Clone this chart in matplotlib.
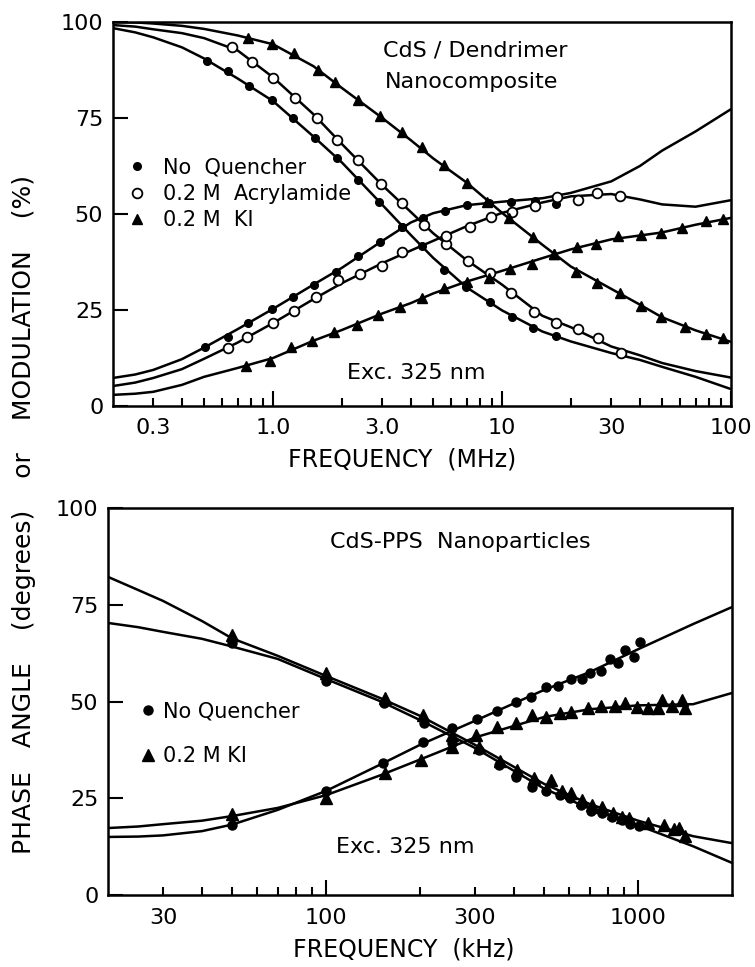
import matplotlib
matplotlib.use("Agg")
import matplotlib.pyplot as plt

plt.rcParams['font.family'] = ['DejaVu Sans']

# ---------------- TOP PANEL (MHz) ----------------
nq_mod_f = [0.516, 0.637, 0.787, 0.99, 1.22, 1.52, 1.90, 2.34, 2.89, 3.64, 4.49, 5.59, 6.97, 8.87, 11.0, 13.6, 17.2]
nq_mod_v = [89.8, 87.2, 83.3, 79.7, 75.0, 69.8, 64.6, 58.9, 53.1, 46.6, 41.7, 35.4, 31.0, 27.1, 23.2, 20.3, 18.2]
nq_ph_f = [0.506, 0.637, 0.779, 0.99, 1.22, 1.51, 1.88, 2.36, 2.92, 3.64, 4.53, 5.65, 7.04, 8.77, 10.9, 13.9, 17.2]
nq_ph_v = [15.4, 18.0, 21.6, 25.3, 28.4, 31.5, 34.9, 39.1, 42.7, 46.6, 49.0, 50.8, 52.3, 52.9, 53.1, 53.4, 52.6]

ac_mod_f = [0.664, 0.81, 1.0, 1.25, 1.56, 1.91, 2.36, 2.95, 3.67, 4.57, 5.70, 7.10, 8.84, 10.9, 13.8, 17.2, 21.4, 26.3, 33.2]
ac_mod_v = [93.5, 89.6, 85.4, 80.2, 75.0, 69.3, 64.1, 57.8, 52.9, 47.1, 42.2, 37.8, 34.6, 29.4, 24.5, 21.6, 20.1, 17.7, 13.8]
ac_ph_f = [0.637, 0.771, 1.0, 1.23, 1.54, 1.92, 2.39, 2.99, 3.67, 5.70, 7.25, 8.96, 11.0, 13.9, 17.3, 21.4, 26.1, 32.9]
ac_ph_v = [15.1, 18.0, 21.6, 24.7, 28.4, 32.8, 34.4, 36.5, 40.1, 44.3, 46.6, 49.2, 50.5, 52.1, 54.4, 53.6, 55.5, 54.7]

ki_mod_f = [0.778, 0.99, 1.23, 1.57, 1.86, 2.36, 2.92, 3.64, 4.45, 5.59, 7.04, 8.6, 10.7, 13.6, 16.8, 21.0, 25.9, 32.6, 40.3, 49.4, 63.0, 77.6, 92.0]
ki_mod_v = [95.8, 94.3, 91.9, 87.5, 84.4, 79.7, 75.5, 71.4, 67.4, 62.8, 58.1, 53.1, 49.0, 44.0, 39.6, 34.9, 32.0, 29.4, 26.0, 23.2, 20.6, 18.8, 17.7]
ki_ph_f = [0.763, 0.97, 1.20, 1.48, 1.84, 2.32, 2.87, 3.57, 4.49, 5.59, 7.04, 8.77, 10.8, 13.5, 16.8, 21.2, 25.6, 32.2, 40.6, 49.4, 61.3, 77.6, 92.0]
ki_ph_v = [10.4, 11.7, 15.4, 16.9, 19.3, 21.1, 23.7, 25.8, 28.1, 30.7, 32.3, 33.3, 35.7, 37.0, 39.6, 41.4, 42.2, 44.3, 44.5, 45.1, 46.4, 48.2, 48.7]

# fitted curves
top_fit_f = [0.2, 0.25, 0.3, 0.4, 0.5, 0.7, 1, 1.5, 2, 3, 4, 5, 7, 10, 15, 20, 30, 40, 50, 70, 100]
nq_mod_fit = [98.4, 97.3, 96.0, 93.4, 90.5, 85.3, 79.4, 70.2, 63.4, 52.4, 44.5, 38.6, 30.9, 24.9, 19.4, 16.8, 13.8, 12.0, 10.2, 7.6, 4.4]
ac_mod_fit = [99.2, 98.8, 98.1, 97.1, 95.8, 92.6, 85.6, 76.0, 68.2, 57.5, 50.5, 45.0, 38.0, 31.6, 23.5, 20.5, 15.5, 13.2, 11.2, 9.1, 7.4]
ki_mod_fit = [100, 99.9, 99.6, 99.0, 98.2, 96.5, 94.2, 88.5, 82.8, 75.0, 69.2, 64.5, 58.2, 50.3, 42.0, 36.3, 30.5, 26.4, 23.1, 19.7, 16.7]
nq_ph_fit = [7.3, 8.2, 9.4, 12.2, 15.2, 20.0, 25.3, 31.6, 36.0, 43.0, 47.8, 50.2, 52.3, 53.2, 54.1, 55.5, 58.5, 62.5, 66.5, 71.5, 77.3]
ac_ph_fit = [5.2, 6.1, 7.3, 9.6, 12.3, 16.5, 21.6, 27.8, 32.0, 37.2, 40.5, 43.0, 46.8, 50.3, 53.0, 54.6, 55.2, 53.8, 52.5, 51.9, 53.6]
ki_ph_fit = [2.9, 3.2, 3.7, 5.5, 7.6, 9.9, 12.5, 17.0, 19.8, 24.1, 26.8, 29.3, 32.4, 35.2, 38.5, 40.8, 43.4, 44.4, 45.2, 47.2, 49.0]

top_major_ticks = [1, 10, 100]
top_major_labels = ['1.0', '10', '100']
top_minor_ticks = [0.3, 0.4, 0.5, 0.6, 0.7, 0.8, 0.9, 2, 3, 4, 5, 6, 7, 8, 9, 20, 30, 40, 50, 60, 70, 80, 90]
top_minor_labels = ['0.3', '', '', '', '', '', '', '', '3.0', '', '', '', '', '', '', '', '30', '', '', '', '', '', '']

# ---------------- BOTTOM PANEL (kHz) ----------------
b_nq_ph_f = [50, 100, 152, 204, 253, 304, 354, 405, 455, 505, 555, 610, 660, 700, 760, 814, 863, 908, 970, 1016]
b_nq_ph_v = [18.1, 26.9, 34.1, 39.5, 43.1, 45.5, 47.5, 49.9, 51.2, 53.7, 54.0, 55.8, 55.8, 57.4, 57.9, 61.0, 59.9, 63.3, 61.5, 65.4]
b_ki_ph_f = [50, 100, 155, 201, 253, 302, 354, 407, 458, 505, 563, 610, 690, 760, 845, 908, 990, 1077, 1159, 1194, 1285, 1383, 1413]
b_ki_ph_v = [20.9, 25.1, 31.5, 34.9, 38.2, 41.3, 43.4, 44.4, 46.5, 46.0, 47.0, 47.3, 48.3, 48.8, 48.8, 49.6, 48.6, 48.3, 48.3, 50.4, 48.8, 50.4, 48.3]
b_nq_mod_f = [50, 100, 153, 206, 253, 310, 357, 405, 458, 505, 563, 606, 657, 707, 767, 827, 889, 942, 1006]
b_nq_mod_v = [65.1, 55.3, 49.6, 44.4, 39.3, 37.5, 33.6, 30.5, 27.9, 26.9, 25.8, 25.1, 23.3, 21.7, 21.2, 20.2, 19.4, 18.3, 17.8]
b_ki_mod_f = [50, 100, 155, 204, 253, 308, 362, 410, 465, 524, 571, 611, 662, 713, 767, 832, 889, 936, 1077, 1212, 1302, 1351, 1413]
b_ki_mod_v = [67.2, 57.4, 50.9, 46.5, 41.3, 38.2, 34.6, 32.3, 30.2, 29.7, 26.9, 26.4, 24.5, 23.3, 22.7, 21.2, 20.2, 19.9, 18.6, 18.1, 17.1, 17.3, 15.2]

b_fit_f = [20, 25, 30, 40, 50, 70, 100, 150, 200, 300, 500, 700, 1000, 1500, 2000]
b_nq_mod_fit = [70.3, 69.2, 68.0, 66.2, 64.2, 61.0, 55.8, 50.0, 45.2, 38.0, 27.5, 22.3, 18.0, 12.6, 8.3]
b_ki_mod_fit = [82.2, 78.8, 76.0, 70.8, 66.3, 61.8, 56.6, 50.8, 46.3, 38.8, 28.7, 23.5, 19.2, 15.2, 13.4]
b_nq_ph_fit = [15.0, 15.1, 15.4, 16.5, 18.2, 22.0, 26.9, 33.8, 38.8, 45.0, 53.0, 57.6, 63.5, 70.0, 74.4]
b_ki_ph_fit = [17.3, 17.7, 18.3, 19.2, 20.4, 22.5, 25.8, 31.0, 35.0, 40.7, 46.0, 48.0, 49.0, 49.3, 52.2]

bot_major_ticks = [100, 1000]
bot_major_labels = ['100', '1000']
bot_minor_ticks = [30, 40, 50, 60, 70, 80, 90, 200, 300, 400, 500, 600, 700, 800, 900]
bot_minor_labels = ['30', '', '', '', '', '', '', '', '300', '', '', '', '', '', '']

y_ticks = [0, 25, 50, 75, 100]

FS = 16
LW = 1.8

fig = plt.figure(figsize=(7.55, 9.67), dpi=100)
ax1 = fig.add_axes([113/755, 1-406/967, 618/755, 384/967])
ax2 = fig.add_axes([108/755, 1-895/967, 624/755, 387/967])


def style(ax, xlim, majt, majl, mint, minl):
    ax.set_xscale('log')
    ax.set_xlim(*xlim)
    ax.set_ylim(0, 100)
    ax.set_xticks(majt)
    ax.set_xticklabels(majl)
    ax.set_xticks(mint, minor=True)
    ax.set_xticklabels(minl, minor=True)
    ax.set_yticks(y_ticks)
    ax.set_yticklabels([str(v) for v in y_ticks])
    ax.tick_params(axis='both', which='both', direction='in', width=1.5,
                   labelsize=FS, top=False, right=False)
    ax.tick_params(axis='x', which='major', length=11, pad=9)
    ax.tick_params(axis='x', which='minor', length=6, pad=9)
    ax.tick_params(axis='y', which='major', length=11, pad=7)
    for s in ax.spines.values():
        s.set_linewidth(1.8)


style(ax1, (0.2, 100), top_major_ticks, top_major_labels, top_minor_ticks, top_minor_labels)
style(ax2, (20, 2000), bot_major_ticks, bot_major_labels, bot_minor_ticks, bot_minor_labels)

# top fits
for fit in (nq_mod_fit, ac_mod_fit, ki_mod_fit, nq_ph_fit, ac_ph_fit, ki_ph_fit):
    ax1.plot(top_fit_f, fit, color='black', lw=LW, zorder=2, solid_joinstyle='round')

h1, = ax1.plot(nq_mod_f, nq_mod_v, 'o', ms=5.5, color='black', zorder=3, label='No  Quencher')
ax1.plot(nq_ph_f, nq_ph_v, 'o', ms=5.5, color='black', zorder=3)
h2, = ax1.plot(ac_mod_f, ac_mod_v, 'o', ms=7, mfc='white', mec='black', mew=1.3, zorder=3,
               label='0.2 M  Acrylamide')
ax1.plot(ac_ph_f, ac_ph_v, 'o', ms=7, mfc='white', mec='black', mew=1.3, zorder=3)
h3, = ax1.plot(ki_mod_f, ki_mod_v, '^', ms=7.5, color='black', zorder=3, label='0.2 M  KI')
ax1.plot(ki_ph_f, ki_ph_v, '^', ms=7.5, color='black', zorder=3)

ax1.legend(handles=[h1, h2, h3], loc='upper left', bbox_to_anchor=(0.0186, 0.647),
           frameon=False, fontsize=15, handlelength=1.2, handletextpad=0.65,
           labelspacing=0.3, borderpad=0, borderaxespad=0)

ax1.text(0.586, 0.927, 'CdS / Dendrimer', transform=ax1.transAxes, ha='center', va='center', fontsize=FS)
ax1.text(0.581, 0.844, 'Nanocomposite', transform=ax1.transAxes, ha='center', va='center', fontsize=FS)
ax1.text(0.490, 0.086, 'Exc. 325 nm', transform=ax1.transAxes, ha='center', va='center', fontsize=FS)

# bottom fits
for fit in (b_nq_mod_fit, b_ki_mod_fit, b_nq_ph_fit, b_ki_ph_fit):
    ax2.plot(b_fit_f, fit, color='black', lw=LW, zorder=2, solid_joinstyle='round')

g1, = ax2.plot(b_nq_ph_f, b_nq_ph_v, 'o', ms=6.5, color='black', zorder=3, label='No Quencher')
ax2.plot(b_nq_mod_f, b_nq_mod_v, 'o', ms=6.5, color='black', zorder=3)
g2, = ax2.plot(b_ki_ph_f, b_ki_ph_v, '^', ms=8, color='black', zorder=3, label='0.2 M KI')
ax2.plot(b_ki_mod_f, b_ki_mod_v, '^', ms=8, color='black', zorder=3)

ax2.legend(handles=[g1, g2], loc='upper left', bbox_to_anchor=(0.051, 0.50),
           frameon=False, fontsize=15, handlelength=0.8, handletextpad=0.3,
           labelspacing=1.2, borderpad=0, borderaxespad=0)

ax2.text(0.564, 0.912, 'CdS-PPS  Nanoparticles', transform=ax2.transAxes, ha='center', va='center', fontsize=FS)
ax2.text(0.476, 0.124, 'Exc. 325 nm', transform=ax2.transAxes, ha='center', va='center', fontsize=FS)

fig.text(402/755, 1-460/967, 'FREQUENCY  (MHz)', ha='center', va='center', fontsize=17)
fig.text(404/755, 1-950/967, 'FREQUENCY  (kHz)', ha='center', va='center', fontsize=17)
fig.text(24/755, 1-514/967, 'PHASE   ANGLE    (degrees)    or    MODULATION    (%)',
         rotation=90, ha='center', va='center', fontsize=18)

fig.savefig('out.png', dpi=100)
